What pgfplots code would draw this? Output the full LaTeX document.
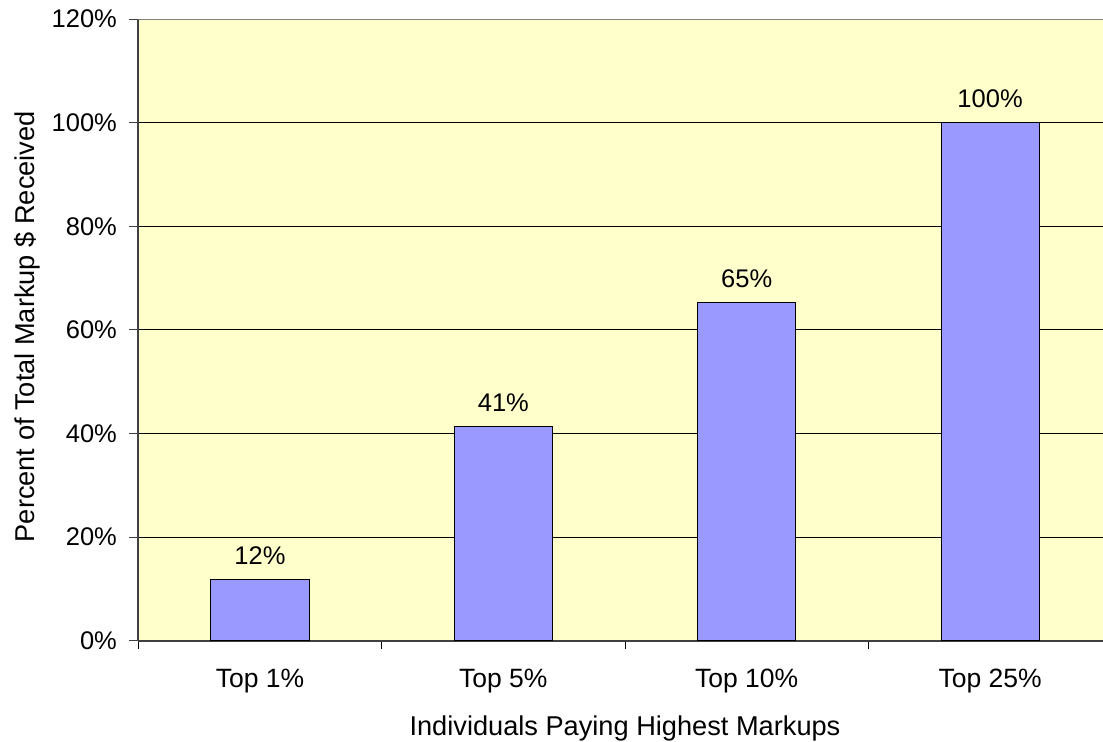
\documentclass[border=0pt]{standalone}
\usepackage{fontspec}
\setmainfont{Liberation Sans}
\usepackage{pgfplots}
\pgfplotsset{compat=1.18}

\definecolor{plotbg}{HTML}{FFFFCC}
\definecolor{barfill}{HTML}{9999FF}
\definecolor{framegray}{HTML}{808080}
\definecolor{axisdark}{HTML}{404040}
\newcommand\chartfont{\fontsize{12.75}{15}\selectfont}
\newcommand\catfont{\fontsize{13.25}{15}\selectfont}
\newcommand\titlefont{\fontsize{13.6}{16}\selectfont}

\begin{document}
\chartfont
\begin{tikzpicture}
\useasboundingbox (0,0) rectangle (551.5pt,370.5pt);
\begin{axis}[
  at={(69.15pt,50.15pt)}, anchor=south west,
  scale only axis, width=482.35pt, height=310.85pt,
  xmin=-0.5, xmax=3.464, ymin=0, ymax=120,
  axis background/.style={fill=plotbg},
  /pgf/number format/assume math mode=true,
  ybar, bar width=0.403,
  axis x line*=bottom, axis y line*=left,
  x axis line style={-, draw=axisdark, line width=1pt},
  y axis line style={-, draw=axisdark, line width=1pt},
  xtick={0,1,2,3},
  xticklabels={Top 1\%, Top 5\%, Top 10\%, Top 25\%},
  major x tick style={draw=none},
  minor xtick={-0.5,0.5,1.5,2.5},
  minor x tick style={draw=black, line width=0.5pt},
  ytick={0,20,...,120},
  yticklabel={\pgfmathprintnumber{\tick}\%},
  y tick style={draw=axisdark, line width=0.5pt},
  tick align=outside,
  major tick length=4.5pt, minor tick length=4.3pt,
  ymajorgrids, grid style={black, line width=0.5pt},
  tick label style={font=\chartfont, inner sep=0pt},
  xticklabel style={anchor=base, yshift=-19pt, font=\catfont},
  yticklabel style={anchor=east, xshift=-6pt},
  xlabel={Individuals Paying Highest Markups},
  ylabel={Percent of Total Markup \$ Received},
  every axis x label/.style={at={(rel axis cs:0.5045,-0.1517)}, anchor=base, inner sep=0pt, font=\titlefont},
  every axis y label/.style={at={(rel axis cs:-0.1071,0.505)}, rotate=90, anchor=base, inner sep=0pt, font=\titlefont},
  nodes near coords={\pgfmathprintnumber[fixed,precision=0]{\pgfplotspointmeta}\%},
  every node near coord/.append style={anchor=base, inner sep=0pt, yshift=7.5pt, font=\chartfont, black},
]
\addplot[fill=barfill, draw=black, line width=0.5pt] coordinates {
  (0,11.8) (1,41.4) (2,65.2) (3,100)
};
\draw[framegray, line width=1pt] (rel axis cs:0,1) -- (rel axis cs:1,1);
\end{axis}
\end{tikzpicture}
\end{document}
